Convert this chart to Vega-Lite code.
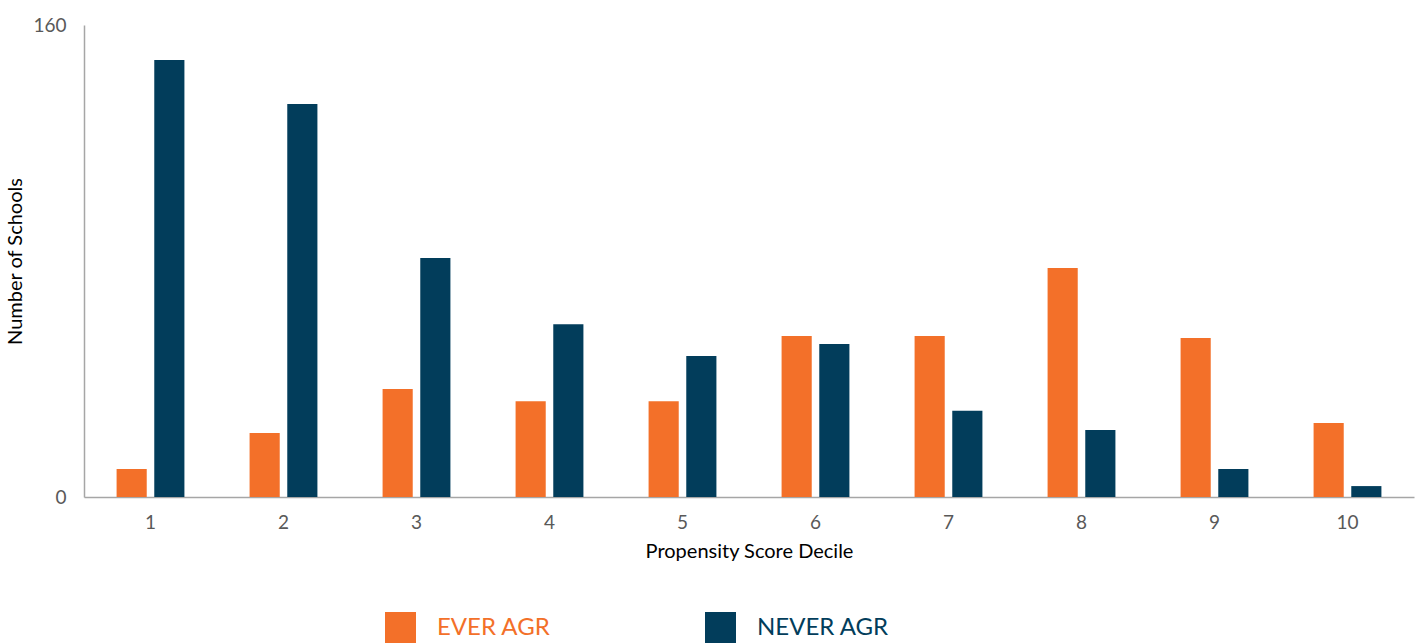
{
  "$schema": "https://vega.github.io/schema/vega-lite/v6.json",
  "width": 1330,
  "height": 472,
  "autosize": {"type": "none"},
  "padding": {"left": 84, "top": 25, "right": 8, "bottom": 147},
  "background": "white",
  "config": {
    "font": "Lato",
    "view": {"stroke": null},
    "axis": {"labelFont": "Lato", "titleFont": "Lato", "labelColor": "#595959", "titleColor": "#000000", "titleFontWeight": "normal", "domainColor": "#A6A6A6", "domainWidth": 1.5, "grid": false, "ticks": false}
  },
  "data": {
    "values": [
      {"decile": "1", "group": "EVER AGR", "count": 9.5},
      {"decile": "1", "group": "NEVER AGR", "count": 148.1},
      {"decile": "2", "group": "EVER AGR", "count": 21.7},
      {"decile": "2", "group": "NEVER AGR", "count": 133.2},
      {"decile": "3", "group": "EVER AGR", "count": 36.6},
      {"decile": "3", "group": "NEVER AGR", "count": 81.0},
      {"decile": "4", "group": "EVER AGR", "count": 32.5},
      {"decile": "4", "group": "NEVER AGR", "count": 58.6},
      {"decile": "5", "group": "EVER AGR", "count": 32.5},
      {"decile": "5", "group": "NEVER AGR", "count": 47.8},
      {"decile": "6", "group": "EVER AGR", "count": 54.6},
      {"decile": "6", "group": "NEVER AGR", "count": 51.9},
      {"decile": "7", "group": "EVER AGR", "count": 54.6},
      {"decile": "7", "group": "NEVER AGR", "count": 29.2},
      {"decile": "8", "group": "EVER AGR", "count": 77.6},
      {"decile": "8", "group": "NEVER AGR", "count": 22.7},
      {"decile": "9", "group": "EVER AGR", "count": 53.9},
      {"decile": "9", "group": "NEVER AGR", "count": 9.5},
      {"decile": "10", "group": "EVER AGR", "count": 25.1},
      {"decile": "10", "group": "NEVER AGR", "count": 3.7}
    ]
  },
  "mark": {"type": "bar"},
  "encoding": {
    "x": {
      "field": "decile", "type": "nominal", "sort": null,
      "scale": {"paddingInner": 0.49, "paddingOuter": 0.245},
      "axis": {"title": "Propensity Score Decile", "labelAngle": 0, "labelFontSize": 19, "labelPadding": 16, "titleFontSize": 20, "titlePadding": 9}
    },
    "xOffset": {"field": "group", "type": "nominal", "scale": {"paddingInner": 0.2}},
    "y": {
      "field": "count", "type": "quantitative",
      "scale": {"domain": [0, 160], "nice": false},
      "axis": {"title": "Number of Schools", "values": [0, 160], "labelFontSize": 19, "labelPadding": 18, "titleFontSize": 20, "titlePadding": 7, "titleColor": "#000000"}
    },
    "color": {
      "field": "group", "type": "nominal",
      "scale": {"domain": ["EVER AGR", "NEVER AGR"], "range": ["#F37029", "#023D5B"]},
      "legend": {
        "title": null, "orient": "none", "legendX": 301, "legendY": 587,
        "direction": "horizontal", "columns": 2, "columnPadding": 154,
        "symbolType": "square", "symbolSize": 961, "symbolStrokeWidth": 0, "symbolOpacity": 1,
        "labelFont": "Lato", "labelFontSize": 24, "labelOffset": 21,
        "encode": {"labels": {"update": {"fill": {"signal": "datum.label == 'EVER AGR' ? '#F37029' : '#023D5B'"}}}}
      }
    }
  }
}
